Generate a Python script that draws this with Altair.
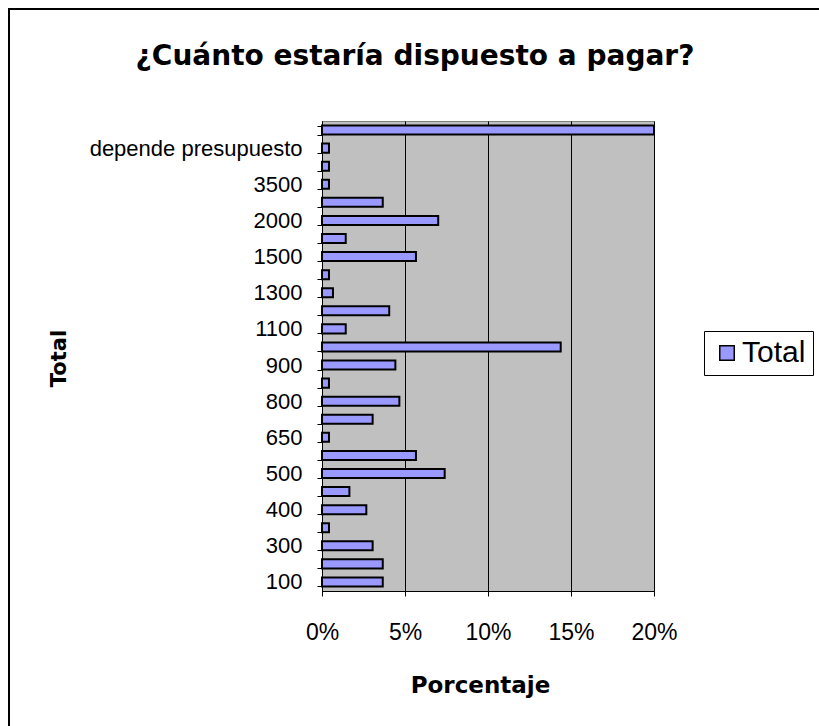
import altair as alt
import pandas as pd

# Categories listed from bottom to top of the chart
categorias = ["100", "200", "300", "350", "400", "450", "500", "600", "650", "700",
              "800", "850", "900", "1000", "1100", "1200", "1300", "1400", "1500", "1800",
              "2000", "3000", "3500", "5000", "depende presupuesto", "no sabe"]
porcentajes = [3.66, 3.66, 3.05, 0.42, 2.67, 1.65, 7.39, 5.66, 0.42, 3.05,
               4.66, 0.42, 4.42, 14.38, 1.43, 4.05, 0.66, 0.42, 5.66, 1.43,
               7.0, 3.66, 0.42, 0.42, 0.42, 20.0]
serie = "Total"
ticks_x = [0, 5, 10, 15, 20]
etiquetas_visibles = categorias[::2]

df = pd.DataFrame({"cat": categorias, "pct": porcentajes, "serie": serie})
orden = categorias[::-1]
lista = "[" + ",".join("'%s'" % c for c in etiquetas_visibles) + "]"

bars = alt.Chart(df).mark_bar(stroke="black", strokeWidth=2).encode(
    y=alt.Y("cat:N", sort=orden,
            scale=alt.Scale(paddingInner=0.5, paddingOuter=0.25),
            axis=alt.Axis(title="Total",
                          labelExpr=f"indexof({lista}, datum.value) >= 0 ? datum.label : ''",
                          tickBand="extent", labelOverlap=False, labelLimit=400,
                          labelFont="Liberation Sans", labelFontSize=22, labelPadding=15,
                          tickSize=5, titleFont="DejaVu Sans", titleFontSize=21,
                          titleFontWeight="bold", titleAngle=270, titleAlign="center",
                          titleBaseline="alphabetic", titleX=-257, titleY=237)),
    x=alt.X("pct:Q", scale=alt.Scale(domain=[0, 20], nice=False),
            axis=alt.Axis(values=ticks_x, labelExpr="datum.value + '%'",
                          title="Porcentaje", grid=True, gridColor="black", gridWidth=1,
                          gridOpacity=1, labelFont="Liberation Sans", labelFontSize=23,
                          labelFlush=False, labelOverlap=False,
                          labelPadding=25, tickSize=5, titleFont="DejaVu Sans",
                          titleFontSize=23, titleFontWeight="bold", titleAlign="center",
                          titleBaseline="alphabetic", titleX=158, titleY=101)),
    color=alt.Color("serie:N", scale=alt.Scale(range=["#9999FF"]),
                    legend=alt.Legend(title=None, orient="none", legendX=382, legendY=210,
                                      labelFont="Liberation Sans", labelFontSize=30,
                                      symbolType="square", symbolSize=210,
                                      symbolStrokeColor="black", symbolStrokeWidth=1.5,
                                      symbolOffset=1, labelOffset=0, padding=7,
                                      strokeColor="black", fillColor="white",
                                      labelColor="black"))
)

frame = alt.Chart(pd.DataFrame({"a": [0]})).mark_rect(
    fillOpacity=0, stroke="black", strokeWidth=2
).encode(x=alt.value(-313), x2=alt.value(508), y=alt.value(-112), y2=alt.value(619))

chart = alt.layer(frame, bars).properties(
    width=332, height=470,
    title=alt.TitleParams("¿Cuánto estaría dispuesto a pagar?", font="DejaVu Sans",
                          fontSize=28, fontWeight="bold", anchor="middle", frame="group",
                          baseline="alphabetic", offset=0, dx=-73, dy=85, color="black"),
    padding={"left": 322, "top": 121, "right": 165, "bottom": 135},
    autosize=alt.AutoSizeParams(type="none"),
    background="white",
).configure_view(
    fill="#C0C0C0", stroke="#808080", strokeWidth=1
).configure_axis(
    domainColor="black", domainWidth=1, tickColor="black", labelColor="black",
    titleColor="black"
)

chart.save("out.html", embed_options={"renderer": "svg", "actions": False})
